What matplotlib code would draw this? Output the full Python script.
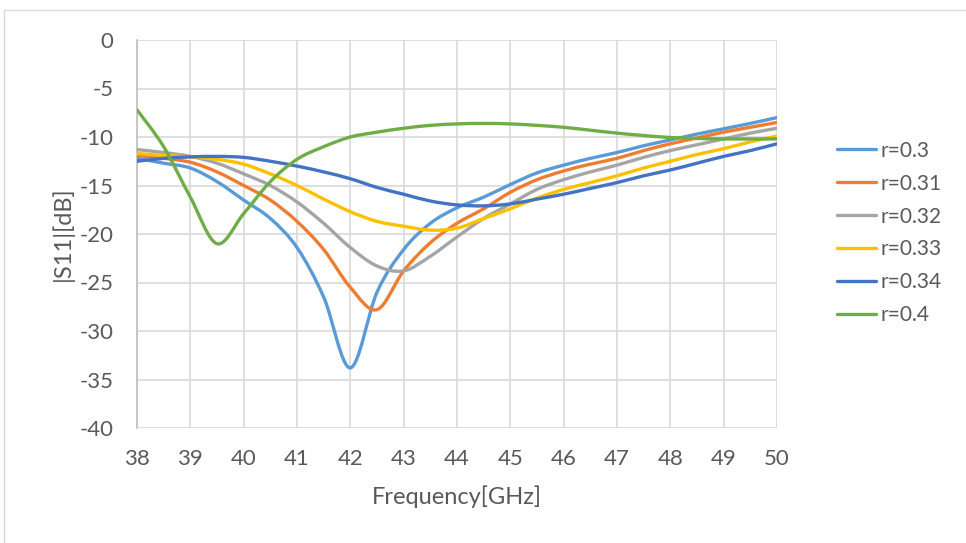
import numpy as np
import matplotlib
matplotlib.use('Agg')
import matplotlib.pyplot as plt
from matplotlib.path import Path
from matplotlib.patches import PathPatch, Rectangle
from matplotlib.lines import Line2D

plt.rcParams['font.family'] = ['Lato', 'DejaVu Sans']
plt.rcParams['axes.unicode_minus'] = False

# frequency sweep, GHz
freq = [38, 38.5, 39, 39.5, 40, 40.5, 41, 41.5, 42, 42.5, 43, 43.5, 44,
        44.5, 45, 45.5, 46, 46.5, 47, 47.5, 48, 48.5, 49, 49.5, 50]

# |S11| in dB for each r
s11_r030 = [-12.2, -12.7, -13.2, -14.6, -16.5, -18.4, -21.4, -26.5, -33.8, -26.0, -21.6, -18.9, -17.3,
            -16.2, -14.9, -13.7, -12.9, -12.2, -11.6, -10.9, -10.3, -9.7, -9.15, -8.6, -8.0]
s11_r031 = [-11.9, -12.2, -12.6, -13.6, -15.0, -16.5, -18.7, -21.6, -25.5, -27.8, -23.8, -20.9, -18.9,
            -17.4, -15.7, -14.4, -13.5, -12.8, -12.2, -11.4, -10.7, -10.1, -9.5, -9.0, -8.5]
s11_r032 = [-11.3, -11.6, -12.0, -12.7, -13.8, -15.0, -16.7, -18.9, -21.4, -23.3, -23.8, -22.3, -20.3,
            -18.4, -16.9, -15.4, -14.4, -13.6, -12.9, -12.1, -11.4, -10.8, -10.2, -9.6, -9.1]
s11_r033 = [-11.7, -11.9, -12.05, -12.3, -12.8, -13.8, -15.0, -16.4, -17.7, -18.7, -19.2, -19.6, -19.4,
            -18.4, -17.4, -16.3, -15.4, -14.7, -14.0, -13.2, -12.5, -11.8, -11.2, -10.5, -9.9]
s11_r034 = [-12.5, -12.2, -12.05, -12.0, -12.1, -12.5, -13.0, -13.6, -14.3, -15.2, -15.9, -16.6, -17.0,
            -17.1, -16.9, -16.4, -15.9, -15.3, -14.7, -14.0, -13.4, -12.7, -12.0, -11.4, -10.7]
s11_r040 = [-7.2, -11.0, -16.2, -21.0, -17.9, -14.6, -12.3, -11.0, -10.0, -9.5, -9.1, -8.8, -8.65,
            -8.6, -8.65, -8.8, -9.0, -9.3, -9.6, -9.85, -10.05, -10.15, -10.2, -10.2, -10.2]

labels = ['r=0.3', 'r=0.31', 'r=0.32', 'r=0.33', 'r=0.34', 'r=0.4']
colors = ['#5B9BD5', '#ED7D31', '#A5A5A5', '#FFC000', '#4472C4', '#70AD47']
series = [s11_r030, s11_r031, s11_r032, s11_r033, s11_r034, s11_r040]


def smooth_path(x, y):
    # excel-style smoothed line: catmull-rom segments as cubic beziers
    p = np.column_stack([x, y]).astype(float)
    n = len(p)
    verts = [p[0]]
    codes = [Path.MOVETO]
    for i in range(n - 1):
        p0 = p[i - 1] if i > 0 else p[i]
        p3 = p[i + 2] if i + 2 < n else p[i + 1]
        c1 = p[i] + (p[i + 1] - p0) / 6.0
        c2 = p[i + 1] - (p3 - p[i]) / 6.0
        verts += [c1, c2, p[i + 1]]
        codes += [Path.CURVE4] * 3
    return Path(verts, codes)


fig = plt.figure(figsize=(9.66, 5.43), dpi=100)
fig.patches.append(Rectangle((4 / 966, -0.05), 1.1, 1.05 - 10 / 543,
                             transform=fig.transFigure, fill=False,
                             edgecolor='#d9d9d9', linewidth=1.0))
ax = fig.add_axes([137 / 966, 1 - 428 / 543, 640 / 966, 388 / 543])

handles = []
for vals, c, lab in zip(series, colors, labels):
    ax.add_patch(PathPatch(smooth_path(freq, vals), fill=False, edgecolor=c,
                           linewidth=2.4, capstyle='round', joinstyle='round', zorder=3))
    handles.append(Line2D([], [], color=c, linewidth=2.4, solid_capstyle='round', label=lab))

ax.set_xlim(38, 50)
ax.set_ylim(-40, 0)
ax.set_xticks(np.arange(38, 51, 1))
ax.set_yticks(np.arange(-40, 1, 5))
ax.grid(True, color='#d9d9d9', linewidth=1.2)
ax.set_axisbelow(True)
for side in ['top', 'right', 'bottom']:
    ax.spines[side].set_visible(False)
ax.spines['left'].set_color('#bfbfbf')
ax.spines['left'].set_linewidth(1.2)
ax.tick_params(length=0, labelsize=16, labelcolor='#595959', pad=17)
ax.tick_params(axis='x', pad=15)

ax.set_xlabel('Frequency[GHz]', fontsize=17, color='#595959', labelpad=12)
ax.set_ylabel('|S11|[dB]', fontsize=17, color='#595959', labelpad=4)

fig.legend(handles=handles, loc='center left', bbox_to_anchor=(818 / 966, 1 - 233 / 543),
           frameon=False, fontsize=15, labelcolor='#595959', handlelength=1.9,
           handletextpad=0.2, labelspacing=0.62)

fig.savefig('out.png', dpi=100)
